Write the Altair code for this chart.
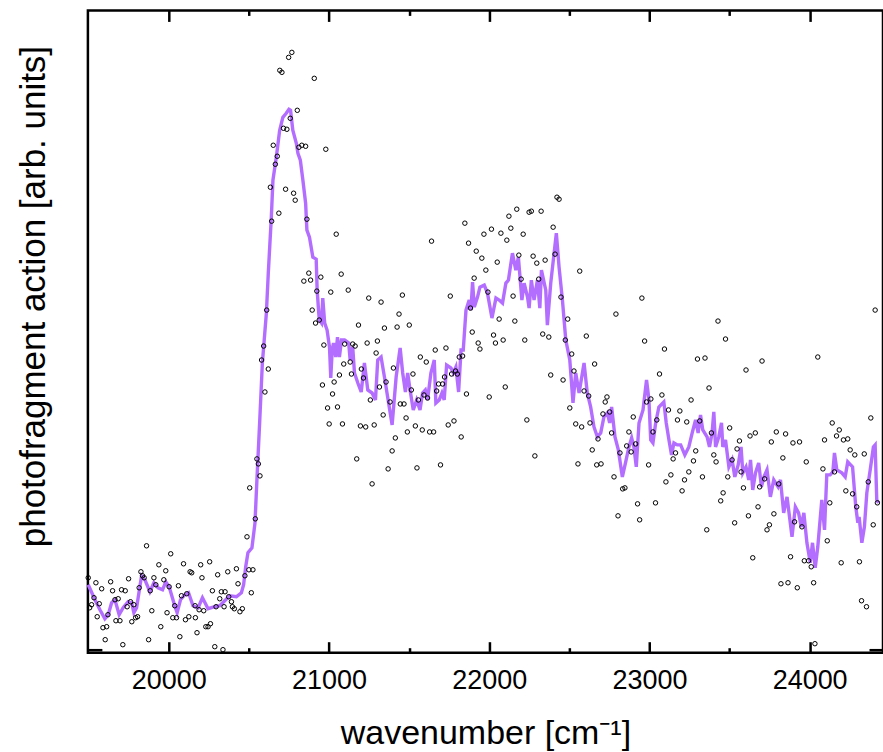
import altair as alt
import pandas as pd

# ---- scatter (raw data) ----
scatter_x = [
    19497, 19506, 19518, 19533, 19545, 19553, 19566, 19581, 19589, 19603,
    19612, 19620, 19637, 19649, 19664, 19670, 19684, 19695, 19705, 19713,
    19728, 19740, 19749, 19761, 19769, 19782, 19793, 19805, 19815, 19826,
    19836, 19846, 19861, 19874, 19884, 19894, 19907, 19919, 19938, 19950,
    19969, 19981, 19989, 20002, 20012, 20025, 20037, 20048, 20060, 20069,
    20079, 20092, 20104, 20112, 20125, 20133, 20143, 20164, 20166, 20176,
    20189, 20199, 20207, 20218, 20231, 20245, 20255, 20260, 20272, 20287,
    20295, 20305, 20318, 20328, 20338, 20345, 20351, 20368, 20374, 20391,
    20397, 20409, 20422, 20432, 20444, 20459, 20475, 20488, 20500, 20505,
    20515, 20525, 20540, 20550, 20559, 20569, 20579, 20592, 20600, 20611,
    20621, 20634, 20642, 20652, 20665, 20677, 20687, 20693, 20706, 20716,
    20729, 20737, 20748, 20758, 20768, 20779, 20789, 20802, 20812, 20830,
    20843, 20854, 20862, 20874, 20885, 20895, 20908, 20916, 20924, 20939,
    20949, 20959, 20968, 20980, 20991, 21001, 21011, 21022, 21032, 21045,
    21053, 21065, 21076, 21084, 21092, 21098, 21120, 21132, 21140, 21148,
    21163, 21173, 21184, 21196, 21202, 21215, 21229, 21238, 21248, 21258,
    21269, 21282, 21294, 21302, 21315, 21325, 21338, 21346, 21356, 21369,
    21381, 21394, 21402, 21414, 21425, 21437, 21445, 21458, 21468, 21481,
    21489, 21501, 21514, 21524, 21539, 21549, 21558, 21570, 21582, 21593,
    21607, 21615, 21628, 21640, 21653, 21663, 21672, 21684, 21696, 21709,
    21721, 21730, 21744, 21757, 21765, 21780, 21790, 21801, 21813, 21825,
    21834, 21848, 21858, 21871, 21883, 21894, 21906, 21919, 21931, 21942,
    21954, 21967, 21979, 21992, 22000, 22014, 22027, 22039, 22050, 22062,
    22073, 22087, 22100, 22110, 22123, 22135, 22149, 22160, 22172, 22185,
    22199, 22212, 22222, 22235, 22249, 22263, 22274, 22285, 22297, 22309,
    22324, 22334, 22349, 22372, 22384, 22399, 22411, 22423, 22436, 22448,
    22461, 22475, 22490, 22503, 22515, 22529, 22540, 22554, 22565, 22577,
    22592, 22606, 22621, 22629, 22643, 22658, 22671, 22679, 22698, 22710,
    22724, 22735, 22752, 22764, 22779, 22791, 22804, 22816, 22833, 22847,
    22858, 22872, 22886, 22899, 22914, 22926, 22939, 22953, 22970, 22982,
    22995, 23009, 23022, 23038, 23046, 23063, 23078, 23094, 23103, 23119,
    23134, 23148, 23163, 23175, 23190, 23204, 23219, 23233, 23246, 23260,
    23275, 23289, 23300, 23314, 23331, 23347, 23358, 23372, 23387, 23402,
    23416, 23428, 23445, 23460, 23475, 23489, 23501, 23516, 23532, 23547,
    23562, 23572, 23587, 23603, 23618, 23628, 23645, 23661, 23678, 23688,
    23703, 23719, 23734, 23749, 23761, 23777, 23792, 23807, 23821, 23833,
    23850, 23865, 23881, 23896, 23906, 23923, 23937, 23952, 23967, 23979,
    23993, 24010, 24025, 24033, 24051, 24083, 24093, 24110, 24126, 24141,
    24155, 24168, 24185, 24197, 24211, 24226, 24238, 24253, 24268, 24282,
    24294, 24311, 24324, 24341, 24355, 24366, 24382, 24397, 24409, 24423,
]
scatter_y = [
    72, 42, 45, 52, 67, 33, 46, 61, 22, 10,
    23, 35, 68, 59, 50, 29, 51, 29, 60, 5,
    59, 43, 71, 48, 28, 45, 32, 33, 62, 78,
    74, 72, 104, 10, 59, 39, 72, 65, 85, 23,
    70, 79, 37, 63, 96, 32, 44, 32, 64, 13,
    54, 86, 30, 56, 33, 78, 77, 44, 32, 17,
    40, 85, 72, 39, 23, 23, 88, 26, 59, 3,
    43, 75, 51, 58, 0, 43, 58, 78, 53, 48,
    43, 41, 81, 66, 38, 41, 74, 113, 80, 162,
    57, 80, 131, 191, 186, 174, 290, 304, 258, 340,
    281, 463, 429, 505, 486, 494, 437, 580, 578, 522,
    461, 521, 593, 532, 598, 457, 450, 540, 503, 505,
    369, 504, 431, 377, 370, 340, 572, 327, 359, 330,
    373, 265, 305, 501, 242, 226, 358, 256, 268, 416,
    243, 275, 376, 226, 286, 306, 360, 288, 276, 306,
    304, 191, 325, 224, 281, 272, 223, 307, 352, 250,
    166, 225, 297, 309, 263, 348, 235, 322, 268, 181,
    248, 199, 282, 212, 323, 336, 246, 355, 246, 232,
    218, 325, 260, 276, 224, 182, 250, 293, 220, 255,
    288, 252, 218, 409, 218, 300, 259, 266, 185, 266,
    273, 302, 225, 354, 276, 229, 279, 276, 293, 213,
    294, 427, 256, 407, 342, 318, 372, 399, 307, 301,
    392, 416, 380, 358, 253, 421, 315, 307, 388, 331,
    417, 310, 263, 410, 434, 422, 354, 329, 441, 395,
    371, 416, 310, 230, 438, 439, 394, 194, 387, 371,
    439, 316, 390, 313, 275, 423, 396, 453, 451, 353,
    270, 310, 331, 242, 296, 279, 226, 186, 379, 223,
    259, 314, 254, 227, 200, 286, 185, 211, 186, 236,
    248, 253, 238, 217, 173, 336, 134, 197, 161, 162,
    204, 218, 198, 233, 206, 146, 130, 352, 309, 248,
    185, 251, 218, 147, 230, 276, 255, 301, 168, 240,
    175, 191, 197, 230, 239, 159, 170, 228, 178, 250,
    189, 199, 291, 229, 173, 292, 120, 262, 217, 195,
    188, 329, 149, 157, 311, 173, 222, 190, 127, 201,
    209, 178, 162, 280, 134, 214, 92, 217, 143, 163,
    289, 171, 120, 125, 208, 136, 218, 166, 66, 192,
    216, 67, 93, 207, 128, 62, 208, 123, 89, 188,
    89, 83, 67, 6, 293, 181, 210, 109, 147, 227,
    178, 214, 220, 87, 210, 159, 211, 200, 156, 195,
    143, 88, 49, 196, 43, 168, 232, 125, 340, 147,
]

# ---- smoothed trace ----
line_x = [
    19497, 19539, 19570, 19601, 19622, 19643, 19664, 19690, 19715, 19746,
    19768, 19782, 19799, 19830, 19851, 19882, 19907, 19933, 19961, 19981,
    20002, 20037, 20052, 20073, 20100, 20123, 20151, 20183, 20210, 20245,
    20287, 20318, 20349, 20380, 20422, 20453, 20467, 20480, 20494, 20519,
    20538, 20550, 20567, 20584, 20609, 20621, 20640, 20650, 20671, 20692,
    20712, 20733, 20750, 20760, 20774, 20796, 20806, 20821, 20837, 20854,
    20862, 20878, 20899, 20920, 20926, 20936, 20940, 20953, 20961, 20973,
    20988, 21003, 21011, 21020, 21028, 21042, 21053, 21065, 21078, 21097,
    21123, 21132, 21148, 21159, 21180, 21201, 21221, 21242, 21269, 21290,
    21304, 21325, 21346, 21372, 21394, 21419, 21444, 21460, 21477, 21491,
    21506, 21526, 21547, 21568, 21584, 21601, 21615, 21636, 21657, 21667,
    21688, 21705, 21719, 21734, 21761, 21776, 21792, 21809, 21824, 21838,
    21855, 21875, 21886, 21896, 21907, 21927, 21942, 21969, 21989, 22017,
    22042, 22062, 22083, 22104, 22120, 22145, 22166, 22182, 22204, 22218,
    22239, 22249, 22263, 22280, 22301, 22316, 22326, 22353, 22363, 22384,
    22405, 22419, 22436, 22457, 22478, 22503, 22523, 22540, 22561, 22592,
    22612, 22633, 22654, 22675, 22696, 22716, 22737, 22752, 22764, 22785,
    22806, 22831, 22852, 22872, 22889, 22903, 22918, 22935, 22960, 22982,
    22997, 23008, 23022, 23039, 23059, 23090, 23105, 23122, 23138, 23153,
    23174, 23195, 23221, 23246, 23267, 23288, 23304, 23319, 23333, 23360,
    23375, 23391, 23402, 23413, 23433, 23450, 23458, 23475, 23496, 23516,
    23533, 23554, 23572, 23583, 23603, 23620, 23631, 23645, 23662, 23682,
    23699, 23715, 23734, 23755, 23776, 23803, 23818, 23838, 23859, 23890,
    23911, 23931, 23948, 23964, 23983, 24004, 24018, 24035, 24051, 24076,
    24093, 24107, 24128, 24145, 24155, 24170, 24201, 24222, 24238, 24268,
    24288, 24301, 24309, 24326, 24342, 24357, 24378, 24398, 24409, 24419,
    24430,
]
line_y = [
    65, 50, 40, 31, 35, 47, 50, 35, 42, 48,
    47, 37, 42, 74, 70, 58, 67, 62, 60, 68,
    63, 44, 37, 50, 55, 57, 44, 42, 52, 41,
    43, 44, 49, 54, 53, 57, 65, 83, 97, 102,
    127, 170, 227, 287, 337, 377, 433, 470, 493, 520,
    533, 537, 541, 540, 520, 507, 497, 490, 470, 447,
    420, 413, 393, 391, 360, 337, 330, 327, 352, 327,
    320, 303, 272, 300, 307, 293, 313, 293, 310, 310,
    307, 290, 303, 277, 267, 258, 287, 260, 257, 250,
    290, 293, 273, 247, 225, 273, 302, 277, 258, 277,
    260, 240, 250, 240, 257, 260, 250, 277, 290, 247,
    250, 257, 250, 285, 282, 277, 283, 258, 300, 300,
    340, 350, 340, 368, 343, 353, 363, 365, 357, 332,
    352, 350, 347, 367, 370, 397, 380, 393, 350, 367,
    353, 342, 370, 350, 370, 342, 380, 360, 325, 367,
    397, 417, 383, 350, 310, 290, 247, 277, 257, 287,
    257, 243, 223, 213, 217, 233, 237, 227, 243, 213,
    200, 173, 188, 203, 212, 203, 183, 227, 240, 270,
    250, 210, 207, 227, 243, 248, 227, 210, 195, 207,
    205, 205, 195, 203, 217, 230, 217, 235, 220, 213,
    203, 217, 238, 203, 213, 227, 203, 210, 183, 190,
    173, 185, 203, 177, 183, 170, 190, 160, 177, 187,
    163, 173, 180, 153, 170, 163, 170, 137, 153, 113,
    143, 137, 123, 137, 107, 87, 107, 82, 103, 150,
    120, 175, 175, 178, 197, 180, 177, 173, 188, 183,
    143, 127, 133, 107, 123, 157, 180, 203, 205, 150,
    147,
]

major_ticks = [20000, 21000, 22000, 23000, 24000]
minor_ticks = [20500, 21500, 22500, 23500]
x_domain = [19495, 24458]
y_domain = [-3, 640]

if len(scatter_x) != len(scatter_y) or len(line_x) != len(line_y):
    raise ValueError(f"{len(scatter_x)} {len(scatter_y)} {len(line_x)} {len(line_y)}")

W, H = 796, 643
FONT = "Liberation Sans"
LINE_COLOR = "#b46eff"

pts = pd.DataFrame({"wn": scatter_x, "sig": scatter_y})
smooth = pd.DataFrame({"wn": line_x, "sig": line_y})

xs = alt.Scale(domain=x_domain, nice=False, zero=False)
ys = alt.Scale(domain=y_domain, nice=False, zero=False)


def tick_axis(orient, values, size, offset):
    return alt.Axis(orient=orient, offset=offset, values=values, tickSize=size,
                    tickWidth=2.5, tickColor="black", labels=False, domain=False,
                    grid=False, title="")


# main layer: the smoothed line with labelled axes
line = alt.Chart(smooth).mark_line(color=LINE_COLOR, strokeWidth=3.4).encode(
    x=alt.X("wn:Q", scale=xs, axis=alt.Axis(
        orient="bottom", values=major_ticks, format="d", ticks=False, domain=False,
        grid=False, labelFont=FONT, labelFontSize=27, labelColor="black",
        labelPadding=15, labelFlush=False, labelOverlap=False,
        title="wavenumber [cm\u207b\u00b9]", titleFont=FONT, titleFontSize=34,
        titleFontWeight="normal", titleColor="black", titleY=91,
        titleBaseline="alphabetic")),
    y=alt.Y("sig:Q", scale=ys, axis=alt.Axis(
        orient="left", labels=False, ticks=False, domain=False, grid=False,
        title="photofragment action [arb. units]", titleFont=FONT,
        titleFontSize=35, titleFontWeight="normal", titleColor="black",
        titleAngle=270, titleAlign="center", titleBaseline="bottom",
        titleX=-36, titleY=286)),
)

# scatter points, also carrying inward major ticks at the bottom and the left tick
points = alt.Chart(pts).mark_point(shape="circle", filled=False, color="black",
                                   size=20, strokeWidth=1, opacity=1).encode(
    x=alt.X("wn:Q", scale=xs, axis=tick_axis("top", major_ticks, 11, -H)),
    y=alt.Y("sig:Q", scale=ys, axis=tick_axis("right", [0], 14, -W)),
)

# invisible helper layers carrying the remaining inward ticks
inv_a = alt.Chart(pts).mark_point(opacity=0).encode(
    x=alt.X("wn:Q", scale=xs, axis=tick_axis("bottom", major_ticks, 11, -H)),
    y=alt.Y("sig:Q", scale=ys, axis=tick_axis("left", [0], 14, -W)),
)
inv_b = alt.Chart(pts).mark_point(opacity=0).encode(
    x=alt.X("wn:Q", scale=xs, axis=tick_axis("top", minor_ticks, 5, -H)),
    y=alt.Y("sig:Q", scale=ys, axis=None),
)
inv_c = alt.Chart(pts).mark_point(opacity=0).encode(
    x=alt.X("wn:Q", scale=xs, axis=tick_axis("bottom", minor_ticks, 5, -H)),
    y=alt.Y("sig:Q", scale=ys, axis=None),
)

chart = alt.layer(line, points, inv_a, inv_b, inv_c).resolve_axis(
    x="independent", y="independent"
).properties(
    width=W, height=H,
    autosize=alt.AutoSizeParams(type="none"),
    padding={"left": 88, "top": 10, "right": 0, "bottom": 99},
).configure(
    background="white",
    view=alt.ViewConfig(stroke="black", strokeWidth=2.5),
)

chart.save("out.html", embed_options={"renderer": "svg", "actions": False})
